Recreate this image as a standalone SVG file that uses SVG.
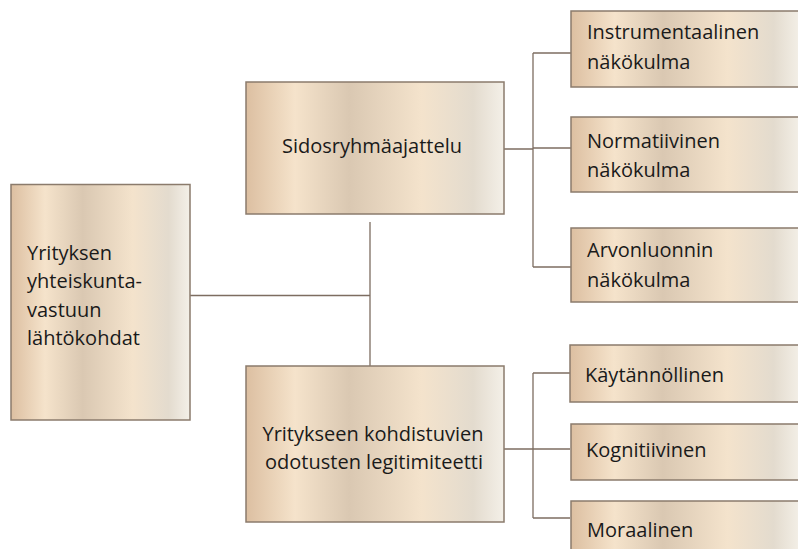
<svg xmlns="http://www.w3.org/2000/svg" width="798" height="549" viewBox="0 0 798 549">
<defs>
<linearGradient id="g" x1="0" y1="0" x2="1" y2="0">
<stop offset="0" stop-color="#dcbfa1"/>
<stop offset="0.19" stop-color="#f5e3cb"/>
<stop offset="0.4" stop-color="#dac8b2"/>
<stop offset="0.68" stop-color="#f4e3cc"/>
<stop offset="0.88" stop-color="#e3dbce"/>
<stop offset="1" stop-color="#f4f0e8"/>
</linearGradient>
<style>
.box{fill:url(#g);stroke:#8b7b6c;stroke-width:1.5}
.t{font-family:"Open Sans","Liberation Sans",sans-serif;font-size:20px;fill:#1a1a1a}
.c{text-anchor:middle}
.ln{fill:none;stroke:#7d6d61;stroke-width:1.3}
</style>
</defs>
<rect width="798" height="549" fill="#ffffff"/>
<g id="connectors">
<path class="ln" d="M190 295.5H370M370 222V367"/>
<path class="ln" d="M504 149H533M533 53V267M533 53H571M533 148H571M533 267H571"/>
<path class="ln" d="M504 449H533M533 373V518M533 373H570M533 449H570M533 518H570"/>
</g>
<g id="n-root">
<rect class="box" x="11" y="184.5" width="179" height="235.5"/>
<text class="t" x="27" y="260">Yrityksen</text>
<text class="t" x="27" y="288">yhteiskunta-</text>
<text class="t" x="27" y="317">vastuun</text>
<text class="t" x="27" y="345">lähtökohdat</text>
</g>
<g id="n-sidos">
<rect class="box" x="246" y="82" width="258" height="132"/>
<text class="t c" x="372" y="153">Sidosryhmäajattelu</text>
</g>
<g id="n-legit">
<rect class="box" x="246" y="366" width="258" height="156"/>
<text class="t c" x="373" y="441">Yritykseen kohdistuvien</text>
<text class="t c" x="374" y="469">odotusten legitimiteetti</text>
</g>
<g id="n-instr">
<rect class="box" x="571" y="11" width="230" height="76"/>
<text class="t" x="587" y="39">Instrumentaalinen</text>
<text class="t" x="587" y="69">näkökulma</text>
</g>
<g id="n-norm">
<rect class="box" x="571" y="117" width="230" height="75"/>
<text class="t" x="587" y="148">Normatiivinen</text>
<text class="t" x="587" y="177">näkökulma</text>
</g>
<g id="n-arvo">
<rect class="box" x="571" y="228" width="230" height="74"/>
<text class="t" x="587" y="257">Arvonluonnin</text>
<text class="t" x="587" y="287">näkökulma</text>
</g>
<g id="n-kayt">
<rect class="box" x="570" y="345" width="231" height="57"/>
<text class="t" x="585" y="382">Käytännöllinen</text>
</g>
<g id="n-kogn">
<rect class="box" x="571" y="424" width="230" height="56"/>
<text class="t" x="586" y="457">Kognitiivinen</text>
</g>
<g id="n-moraal">
<rect class="box" x="571" y="501" width="230" height="60"/>
<text class="t" x="587" y="537">Moraalinen</text>
</g>
</svg>
